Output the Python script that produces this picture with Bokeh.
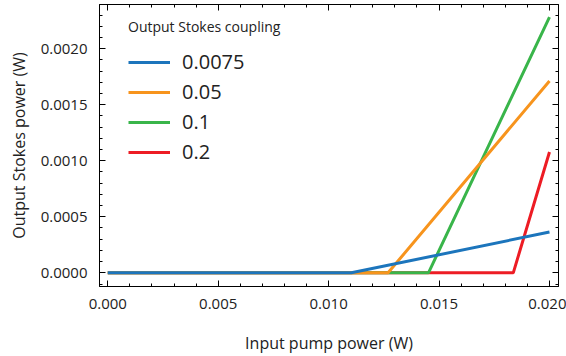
from bokeh.plotting import figure
from bokeh.models import (LinearAxis, SingleIntervalTicker, Range1d, Legend, LegendItem,
                          CustomJSTickFormatter)
from bokeh.embed import file_html
from bokeh.resources import INLINE

# data
couplings = ["0.0075", "0.05", "0.1", "0.2"]
colors = ["#1c75bc", "#f7941d", "#39b54a", "#ed1c24"]
pump_x = {
    "0.0075": [0.0, 0.01103, 0.0200],
    "0.05":   [0.0, 0.01269, 0.0200],
    "0.1":    [0.0, 0.01452, 0.0200],
    "0.2":    [0.0, 0.01836, 0.0200],
}
stokes_y = {
    "0.0075": [0.0, 0.0, 0.000364],
    "0.05":   [0.0, 0.0, 0.001712],
    "0.1":    [0.0, 0.0, 0.002281],
    "0.2":    [0.0, 0.0, 0.001078],
}

FONT = "Open Sans"
TXT = "#222222"

p = figure(width=566, height=356, output_backend="svg", toolbar_location=None,
           x_range=Range1d(-0.000376, 0.020408), y_range=Range1d(-0.000122, 0.002394),
           min_border_left=99, min_border_right=8, min_border_top=4, min_border_bottom=69,
           x_axis_location=None, y_axis_location=None)
p.background_fill_color = "white"
p.border_fill_color = "white"
p.outline_line_color = "black"
p.grid.visible = False

xt = SingleIntervalTicker(interval=0.005, num_minor_ticks=5)
yt = SingleIntervalTicker(interval=0.0005, num_minor_ticks=5)

def style(ax):
    ax.major_tick_in = 6
    ax.major_tick_out = 0
    ax.minor_tick_in = 3
    ax.minor_tick_out = 0
    ax.axis_line_color = "black"
    ax.major_tick_line_color = "black"
    ax.minor_tick_line_color = "black"
    ax.major_label_text_font = FONT
    ax.major_label_text_color = TXT
    ax.major_label_text_font_size = "15px"
    ax.axis_label_text_font = FONT
    ax.axis_label_text_color = TXT
    ax.axis_label_text_font_size = "16px"
    ax.axis_label_text_font_style = "normal"

bx = LinearAxis(ticker=xt, axis_label="Input pump power (W)")
style(bx)
bx.major_label_standoff = 12
bx.axis_label_standoff = 20
bx.formatter = CustomJSTickFormatter(code="return tick.toFixed(3);")
p.add_layout(bx, "below")

ly = LinearAxis(ticker=yt, axis_label="Output Stokes power (W)")
style(ly)
ly.major_label_standoff = 12
ly.axis_label_standoff = 8
ly.formatter = CustomJSTickFormatter(code="return tick.toFixed(4);")
p.add_layout(ly, "left")

blank = CustomJSTickFormatter(code="return '';")
tx = LinearAxis(ticker=xt, formatter=blank)
style(tx)
tx.major_label_standoff = 0
p.add_layout(tx, "above")
ry = LinearAxis(ticker=yt, formatter=blank)
style(ry)
ry.major_label_standoff = 0
p.add_layout(ry, "right")

rends = {}
for name, c in reversed(list(zip(couplings, colors))):
    rends[name] = p.line(pump_x[name], stokes_y[name], line_color=c, line_width=3)
items = [LegendItem(label=name, renderers=[rends[name]]) for name in couplings]

legend = Legend(items=items, location=(29, 121), title="Output Stokes coupling")
legend.title_text_font = FONT
legend.title_text_font_size = "14px"
legend.title_text_font_style = "normal"
legend.title_text_color = TXT
legend.title_standoff = 12
legend.label_text_font = FONT
legend.label_text_font_size = "20px"
legend.label_text_color = TXT
legend.glyph_width = 42
legend.glyph_height = 24
legend.label_height = 24
legend.spacing = 3
legend.label_standoff = 12
legend.border_line_color = None
legend.background_fill_alpha = 0
legend.padding = 8
p.add_layout(legend, "center")

open("out.html", "w").write(file_html(p, INLINE))
